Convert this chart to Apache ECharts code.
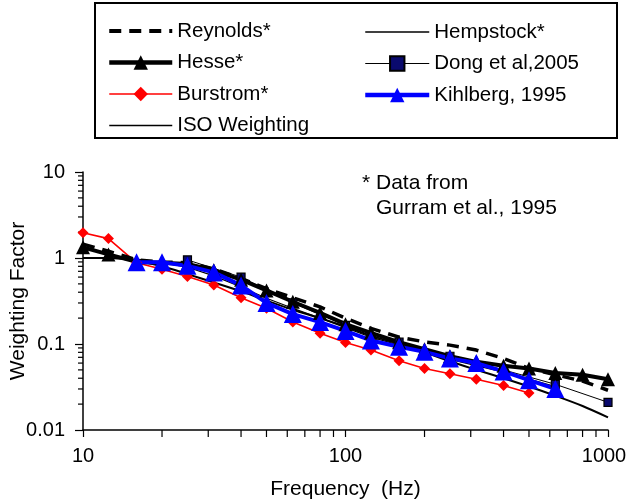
<!DOCTYPE html>
<html>
<head>
  <meta charset="utf-8">
</head>
<body style="margin: 0">
  <div id="container" style="width: 627px; height: 504px"></div>
  <script src="https://cdn.jsdelivr.net/npm/echarts@6.0.0/dist/echarts.min.js"></script>
  <script>
    // 1/3 octave band centre frequencies (Hz)
    var freqs = [10, 12.5, 16, 20, 25, 31.5, 40, 50, 63, 80, 100, 125, 160, 200, 250, 315, 400, 500, 630, 800, 1000];
    var burstromFreqs = freqs.slice(0, 18);
    var hempstockFreqs = freqs.slice(0, 19);
    var kihlbergFreqs = freqs.slice(2, 19);
    var dongFreqs = [25, 40, 63, 100, 160, 250, 400, 630, 1000];

    var reynolds = [1.45, 1.2, 0.95, 0.9, 0.88, 0.75, 0.58, 0.44, 0.345, 0.27, 0.2, 0.152, 0.12, 0.106, 0.097, 0.085, 0.068, 0.052, 0.044, 0.037, 0.029];
    var hesse = [1.33, 1.1, 0.9, 0.88, 0.85, 0.72, 0.56, 0.42, 0.31, 0.23, 0.17, 0.135, 0.105, 0.087, 0.072, 0.062, 0.056, 0.052, 0.046, 0.044, 0.039];
    var burstrom = [1.97, 1.68, 0.88, 0.74, 0.61, 0.485, 0.345, 0.26, 0.18, 0.133, 0.104, 0.085, 0.064, 0.052, 0.045, 0.039, 0.033, 0.027];
    var iso = [1.0, 1.0, 0.93, 0.8, 0.65, 0.52, 0.41, 0.32, 0.25, 0.2, 0.16, 0.125, 0.1, 0.08, 0.063, 0.05, 0.04, 0.032, 0.025, 0.019, 0.014];
    var hempstock = [1.0, 1.0, 0.97, 0.88, 0.78, 0.62, 0.46, 0.34, 0.26, 0.2, 0.155, 0.12, 0.097, 0.08, 0.066, 0.056, 0.047, 0.039, 0.032];
    var dong = [0.95, 0.6, 0.3, 0.165, 0.105, 0.072, 0.05, 0.034, 0.021];
    var kihlberg = [0.89, 0.89, 0.81, 0.68, 0.48, 0.3, 0.223, 0.18, 0.142, 0.11, 0.093, 0.081, 0.068, 0.06, 0.048, 0.038, 0.03];

    var xMinorTicks = [20, 30, 40, 50, 60, 70, 80, 90, 200, 300, 400, 500, 600, 700, 800, 900];
    var yMinorTicks = [0.02, 0.03, 0.04, 0.05, 0.06, 0.07, 0.08, 0.09, 0.2, 0.3, 0.4, 0.5, 0.6, 0.7, 0.8, 0.9, 2, 3, 4, 5, 6, 7, 8, 9];

    function pairs(xs, ys) {
      return xs.map(function (x, i) { return [x, ys[i]]; });
    }

    var font = 'Liberation Sans';
    var dom = document.getElementById('container');
    var myChart = echarts.init(dom, null, { renderer: 'canvas' });

    var legendText = { fontFamily: font, fontSize: 20.5, color: '#000', lineHeight: 24 };
    var noSymbol = { opacity: 0 };

    var option = {
      animation: false,
      legend: [
        {
          data: [
            { name: 'Reynolds*', itemStyle: noSymbol, lineStyle: { width: 4 } },
            { name: 'Hesse*', lineStyle: { width: 4.5 } },
            { name: 'Burstrom*', lineStyle: { width: 1.6 } },
            { name: 'ISO Weighting', itemStyle: noSymbol, lineStyle: { width: 1.6 } }
          ],
          orient: 'vertical',
          left: 102, top: 14,
          itemWidth: 63, itemHeight: 18, itemGap: 7.5,
          textStyle: legendText
        },
        {
          data: [
            { name: 'Hempstock*', itemStyle: noSymbol, lineStyle: { width: 1.6 } },
            { name: 'Dong et al,2005', lineStyle: { width: 1.2 } },
            { name: 'Kihlberg, 1995', lineStyle: { width: 4.5 } }
          ],
          orient: 'vertical',
          left: 358, top: 15,
          itemWidth: 64, itemHeight: 18, itemGap: 7.5,
          textStyle: legendText
        }
      ],
      grid: { left: 83, right: 19, top: 172, bottom: 74, containLabel: false, outerBoundsMode: 'none' },
      xAxis: {
        type: 'log', logBase: 10, min: 10, max: 1000,
        name: 'Frequency  (Hz)', nameLocation: 'middle', nameGap: 49, nameMoveOverlap: false,
        nameTextStyle: { fontFamily: font, fontSize: 21, color: '#000' },
        axisLine: { lineStyle: { color: '#000', width: 1.5 } },
        axisTick: { length: 7, lineStyle: { color: '#000', width: 1.2 } },
        axisLabel: {
          fontFamily: font, fontSize: 20, color: '#000', margin: 16,
          formatter: function (v) { return v >= 1000 ? '{last|' + v + '}' : String(v); },
          rich: { last: { fontFamily: font, fontSize: 20, color: '#000', padding: [0, 8, 0, 0] } }
        },
        splitLine: { show: false }
      },
      yAxis: {
        type: 'log', logBase: 10, min: 0.01, max: 10,
        name: 'Weighting Factor', nameLocation: 'middle', nameGap: 54, nameMoveOverlap: false,
        nameTextStyle: { fontFamily: font, fontSize: 21, color: '#000' },
        axisLine: { show: true, lineStyle: { color: '#000', width: 1.5 } },
        axisTick: { show: true, length: 8, lineStyle: { color: '#000', width: 1.2 } },
        axisLabel: {
          fontFamily: font, fontSize: 20, color: '#000', margin: 18,
          formatter: function (v) { return String(v); }
        },
        splitLine: { show: false }
      },
      series: [
        {
          name: 'ISO Weighting', type: 'line', data: pairs(freqs, iso),
          symbol: 'none', smooth: 0.3,
          lineStyle: { color: '#000', width: 2 }, itemStyle: { color: '#000' }
        },
        {
          name: 'Hempstock*', type: 'line', data: pairs(hempstockFreqs, hempstock),
          symbol: 'none',
          lineStyle: { color: '#000', width: 1.2 }, itemStyle: { color: '#000' }
        },
        {
          name: 'Burstrom*', type: 'line', data: pairs(burstromFreqs, burstrom),
          symbol: 'diamond', symbolSize: 11,
          lineStyle: { color: '#ff0000', width: 1.6 }, itemStyle: { color: '#ff0000' }
        },
        {
          name: 'Dong et al,2005', type: 'line', data: pairs(dongFreqs, dong),
          symbol: 'rect', symbolSize: 8,
          lineStyle: { color: '#000', width: 1 },
          itemStyle: { color: '#0a0a6e', borderColor: '#000', borderWidth: 1.2 }
        },
        {
          name: 'Reynolds*', type: 'line', data: pairs(freqs, reynolds),
          symbol: 'none',
          lineStyle: { color: '#000', width: 3.5, type: [12, 8] }, itemStyle: { color: '#000' }
        },
        {
          name: 'Hesse*', type: 'line', data: pairs(freqs, hesse),
          symbol: 'triangle', symbolSize: 14,
          lineStyle: { color: '#000', width: 4 }, itemStyle: { color: '#000' }
        },
        {
          name: 'Kihlberg, 1995', type: 'line', data: pairs(kihlbergFreqs, kihlberg),
          symbol: 'triangle', symbolSize: 18,
          lineStyle: { color: '#0000ff', width: 4 }, itemStyle: { color: '#0000ff' }
        }
      ]
    };

    myChart.setOption(option);

    // minor log ticks and static decorations
    var graphics = [
      {
        type: 'rect', shape: { x: 95, y: 3, width: 522, height: 135 },
        style: { fill: 'none', stroke: '#000', lineWidth: 2 }
      },
      {
        type: 'text', left: 362, top: 173,
        style: { text: '* Data from', font: '21px "Liberation Sans"', fill: '#000' }
      },
      {
        type: 'text', left: 376, top: 198,
        style: { text: 'Gurram et al., 1995', font: '21px "Liberation Sans"', fill: '#000' }
      }
    ];
    xMinorTicks.forEach(function (v) {
      var p = myChart.convertToPixel({ gridIndex: 0 }, [v, 0.01]);
      graphics.push({
        type: 'line', shape: { x1: p[0], y1: p[1], x2: p[0], y2: p[1] + 7 },
        style: { stroke: '#000', lineWidth: 1.2 }
      });
    });
    yMinorTicks.forEach(function (v) {
      var p = myChart.convertToPixel({ gridIndex: 0 }, [10, v]);
      graphics.push({
        type: 'line', shape: { x1: p[0] - 5, y1: p[1], x2: p[0], y2: p[1] },
        style: { stroke: '#000', lineWidth: 1.2 }
      });
    });
    myChart.setOption({ graphic: graphics });

    window.addEventListener('resize', myChart.resize);
  </script>
</body>
</html>
